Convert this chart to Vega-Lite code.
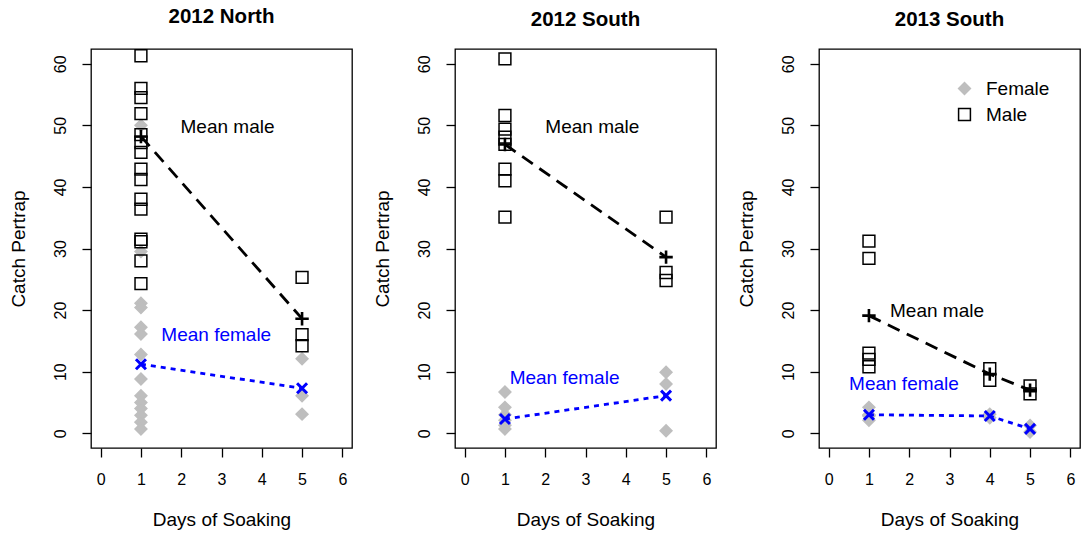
{
  "$schema": "https://vega.github.io/schema/vega-lite/v6.json",
  "padding": {"left": 8, "top": 6, "right": 5, "bottom": 5},
  "background": "white",
  "datasets": {
    "pts": [
      {"panel": "2012 North", "day": 1, "value": 50.0, "sex": "Female"},
      {"panel": "2012 North", "day": 1, "value": 29.5, "sex": "Female"},
      {"panel": "2012 North", "day": 1, "value": 21.1, "sex": "Female"},
      {"panel": "2012 North", "day": 1, "value": 20.4, "sex": "Female"},
      {"panel": "2012 North", "day": 1, "value": 17.2, "sex": "Female"},
      {"panel": "2012 North", "day": 1, "value": 16.1, "sex": "Female"},
      {"panel": "2012 North", "day": 1, "value": 12.8, "sex": "Female"},
      {"panel": "2012 North", "day": 1, "value": 8.8, "sex": "Female"},
      {"panel": "2012 North", "day": 1, "value": 6.1, "sex": "Female"},
      {"panel": "2012 North", "day": 1, "value": 5.0, "sex": "Female"},
      {"panel": "2012 North", "day": 1, "value": 4.0, "sex": "Female"},
      {"panel": "2012 North", "day": 1, "value": 2.9, "sex": "Female"},
      {"panel": "2012 North", "day": 1, "value": 1.8, "sex": "Female"},
      {"panel": "2012 North", "day": 1, "value": 0.7, "sex": "Female"},
      {"panel": "2012 North", "day": 5, "value": 12.1, "sex": "Female"},
      {"panel": "2012 North", "day": 5, "value": 6.1, "sex": "Female"},
      {"panel": "2012 North", "day": 5, "value": 3.1, "sex": "Female"},
      {"panel": "2012 North", "day": 1, "value": 61.3, "sex": "Male"},
      {"panel": "2012 North", "day": 1, "value": 56.0, "sex": "Male"},
      {"panel": "2012 North", "day": 1, "value": 54.5, "sex": "Male"},
      {"panel": "2012 North", "day": 1, "value": 51.9, "sex": "Male"},
      {"panel": "2012 North", "day": 1, "value": 48.5, "sex": "Male"},
      {"panel": "2012 North", "day": 1, "value": 47.2, "sex": "Male"},
      {"panel": "2012 North", "day": 1, "value": 45.6, "sex": "Male"},
      {"panel": "2012 North", "day": 1, "value": 42.9, "sex": "Male"},
      {"panel": "2012 North", "day": 1, "value": 41.2, "sex": "Male"},
      {"panel": "2012 North", "day": 1, "value": 38.0, "sex": "Male"},
      {"panel": "2012 North", "day": 1, "value": 36.4, "sex": "Male"},
      {"panel": "2012 North", "day": 1, "value": 31.5, "sex": "Male"},
      {"panel": "2012 North", "day": 1, "value": 31.1, "sex": "Male"},
      {"panel": "2012 North", "day": 1, "value": 28.0, "sex": "Male"},
      {"panel": "2012 North", "day": 1, "value": 24.3, "sex": "Male"},
      {"panel": "2012 North", "day": 5, "value": 25.3, "sex": "Male"},
      {"panel": "2012 North", "day": 5, "value": 16.0, "sex": "Male"},
      {"panel": "2012 North", "day": 5, "value": 14.2, "sex": "Male"},
      {"panel": "2012 South", "day": 1, "value": 6.7, "sex": "Female"},
      {"panel": "2012 South", "day": 1, "value": 4.2, "sex": "Female"},
      {"panel": "2012 South", "day": 1, "value": 3.0, "sex": "Female"},
      {"panel": "2012 South", "day": 1, "value": 2.1, "sex": "Female"},
      {"panel": "2012 South", "day": 1, "value": 1.3, "sex": "Female"},
      {"panel": "2012 South", "day": 1, "value": 0.7, "sex": "Female"},
      {"panel": "2012 South", "day": 5, "value": 9.9, "sex": "Female"},
      {"panel": "2012 South", "day": 5, "value": 8.0, "sex": "Female"},
      {"panel": "2012 South", "day": 5, "value": 0.4, "sex": "Female"},
      {"panel": "2012 South", "day": 1, "value": 60.8, "sex": "Male"},
      {"panel": "2012 South", "day": 1, "value": 51.6, "sex": "Male"},
      {"panel": "2012 South", "day": 1, "value": 49.4, "sex": "Male"},
      {"panel": "2012 South", "day": 1, "value": 48.1, "sex": "Male"},
      {"panel": "2012 South", "day": 1, "value": 46.9, "sex": "Male"},
      {"panel": "2012 South", "day": 1, "value": 42.9, "sex": "Male"},
      {"panel": "2012 South", "day": 1, "value": 41.0, "sex": "Male"},
      {"panel": "2012 South", "day": 1, "value": 35.1, "sex": "Male"},
      {"panel": "2012 South", "day": 5, "value": 35.1, "sex": "Male"},
      {"panel": "2012 South", "day": 5, "value": 26.1, "sex": "Male"},
      {"panel": "2012 South", "day": 5, "value": 24.8, "sex": "Male"},
      {"panel": "2013 South", "day": 1, "value": 4.2, "sex": "Female"},
      {"panel": "2013 South", "day": 1, "value": 3.0, "sex": "Female"},
      {"panel": "2013 South", "day": 1, "value": 2.9, "sex": "Female"},
      {"panel": "2013 South", "day": 1, "value": 2.8, "sex": "Female"},
      {"panel": "2013 South", "day": 1, "value": 2.1, "sex": "Female"},
      {"panel": "2013 South", "day": 4, "value": 3.1, "sex": "Female"},
      {"panel": "2013 South", "day": 4, "value": 2.5, "sex": "Female"},
      {"panel": "2013 South", "day": 5, "value": 1.25, "sex": "Female"},
      {"panel": "2013 South", "day": 5, "value": 0.2, "sex": "Female"},
      {"panel": "2013 South", "day": 1, "value": 31.2, "sex": "Male"},
      {"panel": "2013 South", "day": 1, "value": 28.4, "sex": "Male"},
      {"panel": "2013 South", "day": 1, "value": 13.0, "sex": "Male"},
      {"panel": "2013 South", "day": 1, "value": 12.0, "sex": "Male"},
      {"panel": "2013 South", "day": 1, "value": 10.8, "sex": "Male"},
      {"panel": "2013 South", "day": 4, "value": 10.5, "sex": "Male"},
      {"panel": "2013 South", "day": 4, "value": 8.6, "sex": "Male"},
      {"panel": "2013 South", "day": 5, "value": 7.7, "sex": "Male"},
      {"panel": "2013 South", "day": 5, "value": 6.4, "sex": "Male"}
    ],
    "means": [
      {"panel": "2012 North", "day": 1, "value": 48.2, "sex": "Male"},
      {"panel": "2012 North", "day": 5, "value": 18.6, "sex": "Male"},
      {"panel": "2012 North", "day": 1, "value": 11.2, "sex": "Female"},
      {"panel": "2012 North", "day": 5, "value": 7.3, "sex": "Female"},
      {"panel": "2012 South", "day": 1, "value": 46.9, "sex": "Male"},
      {"panel": "2012 South", "day": 5, "value": 28.6, "sex": "Male"},
      {"panel": "2012 South", "day": 1, "value": 2.3, "sex": "Female"},
      {"panel": "2012 South", "day": 5, "value": 6.1, "sex": "Female"},
      {"panel": "2013 South", "day": 1, "value": 19.1, "sex": "Male"},
      {"panel": "2013 South", "day": 4, "value": 9.6, "sex": "Male"},
      {"panel": "2013 South", "day": 5, "value": 7.0, "sex": "Male"},
      {"panel": "2013 South", "day": 1, "value": 3.0, "sex": "Female"},
      {"panel": "2013 South", "day": 4, "value": 2.8, "sex": "Female"},
      {"panel": "2013 South", "day": 5, "value": 0.7, "sex": "Female"}
    ],
    "labels": [
      {"panel": "2012 North", "day": 3.15, "value": 49.8, "label": "Mean male", "sex": "Male"},
      {"panel": "2012 North", "day": 2.87, "value": 16.0, "label": "Mean female", "sex": "Female"},
      {"panel": "2012 South", "day": 3.17, "value": 49.8, "label": "Mean male", "sex": "Male"},
      {"panel": "2012 South", "day": 2.48, "value": 8.9, "label": "Mean female", "sex": "Female"},
      {"panel": "2013 South", "day": 2.69, "value": 19.9, "label": "Mean male", "sex": "Male"},
      {"panel": "2013 South", "day": 1.87, "value": 8.0, "label": "Mean female", "sex": "Female"}
    ]
  },
  "spacing": 103,
  "bounds": "flush",
  "resolve": {"scale": {"shape": "independent", "fill": "independent", "stroke": "independent", "color": "independent"},
              "legend": {"shape": "independent", "fill": "independent", "stroke": "independent", "color": "independent"}},
  "hconcat": [
    {
      "title": "2012 North",
      "width": 261, "height": 399,
      "encoding": {
        "x": {"field": "day", "type": "quantitative", "scale": {"domain": [-0.24, 6.24], "nice": false, "zero": false},
              "axis": {"values": [0, 1, 2, 3, 4, 5, 6], "title": "Days of Soaking"}},
        "y": {"field": "value", "type": "quantitative", "scale": {"domain": [-2.4, 62.4], "nice": false, "zero": false},
              "axis": {"values": [0, 10, 20, 30, 40, 50, 60], "title": "Catch Pertrap", "labelAngle": -90}}
      },
      "layer": [
        {"data": {"name": "pts"}, "transform": [{"filter": "datum.panel === '2012 North'"}],
         "mark": {"type": "point", "size": 140, "strokeWidth": 1.5, "opacity": 1},
         "encoding": {
           "shape": {"field": "sex", "type": "nominal", "scale": {"domain": ["Female", "Male"], "range": ["diamond", "square"]}, "legend": null},
           "fill": {"field": "sex", "type": "nominal", "scale": {"domain": ["Female", "Male"], "range": ["#bebebe", "transparent"]}, "legend": null},
           "stroke": {"field": "sex", "type": "nominal", "scale": {"domain": ["Female", "Male"], "range": ["#bebebe", "black"]}, "legend": null}
         }},
        {"data": {"name": "means"}, "transform": [{"filter": "datum.panel === '2012 North' && datum.sex === 'Male'"}],
         "mark": {"type": "line", "color": "black", "strokeWidth": 2.8, "strokeDash": [13, 8]}, "encoding": {}},
        {"data": {"name": "means"}, "transform": [{"filter": "datum.panel === '2012 North' && datum.sex === 'Female'"}],
         "mark": {"type": "line", "color": "#0000ff", "strokeWidth": 2.8, "strokeDash": [5, 5]}, "encoding": {}},
        {"data": {"name": "means"}, "transform": [{"filter": "datum.panel === '2012 North' && datum.sex === 'Male'"}],
         "mark": {"type": "point", "shape": "M-1,0L1,0M0,-1L0,1", "filled": false, "stroke": "black", "strokeWidth": 2.6, "size": 180, "opacity": 1}},
        {"data": {"name": "means"}, "transform": [{"filter": "datum.panel === '2012 North' && datum.sex === 'Female'"}],
         "mark": {"type": "point", "shape": "M-1,-1L1,1M1,-1L-1,1", "filled": false, "stroke": "#0000ff", "strokeWidth": 3, "size": 100, "opacity": 1}},
        {"data": {"name": "labels"}, "transform": [{"filter": "datum.panel === '2012 North'"}],
         "mark": {"type": "text", "fontSize": 19},
         "encoding": {"text": {"field": "label"},
           "color": {"field": "sex", "type": "nominal", "scale": {"domain": ["Female", "Male"], "range": ["#0000ff", "black"]}, "legend": null}}}
      ]
    },
    {
      "title": "2012 South",
      "width": 261, "height": 399,
      "encoding": {
        "x": {"field": "day", "type": "quantitative", "scale": {"domain": [-0.24, 6.24], "nice": false, "zero": false},
              "axis": {"values": [0, 1, 2, 3, 4, 5, 6], "title": "Days of Soaking"}},
        "y": {"field": "value", "type": "quantitative", "scale": {"domain": [-2.4, 62.4], "nice": false, "zero": false},
              "axis": {"values": [0, 10, 20, 30, 40, 50, 60], "title": "Catch Pertrap", "labelAngle": -90}}
      },
      "layer": [
        {"data": {"name": "pts"}, "transform": [{"filter": "datum.panel === '2012 South'"}],
         "mark": {"type": "point", "size": 140, "strokeWidth": 1.5, "opacity": 1},
         "encoding": {
           "shape": {"field": "sex", "type": "nominal", "scale": {"domain": ["Female", "Male"], "range": ["diamond", "square"]}, "legend": null},
           "fill": {"field": "sex", "type": "nominal", "scale": {"domain": ["Female", "Male"], "range": ["#bebebe", "transparent"]}, "legend": null},
           "stroke": {"field": "sex", "type": "nominal", "scale": {"domain": ["Female", "Male"], "range": ["#bebebe", "black"]}, "legend": null}
         }},
        {"data": {"name": "means"}, "transform": [{"filter": "datum.panel === '2012 South' && datum.sex === 'Male'"}],
         "mark": {"type": "line", "color": "black", "strokeWidth": 2.8, "strokeDash": [13, 8]}, "encoding": {}},
        {"data": {"name": "means"}, "transform": [{"filter": "datum.panel === '2012 South' && datum.sex === 'Female'"}],
         "mark": {"type": "line", "color": "#0000ff", "strokeWidth": 2.8, "strokeDash": [5, 5]}, "encoding": {}},
        {"data": {"name": "means"}, "transform": [{"filter": "datum.panel === '2012 South' && datum.sex === 'Male'"}],
         "mark": {"type": "point", "shape": "M-1,0L1,0M0,-1L0,1", "filled": false, "stroke": "black", "strokeWidth": 2.6, "size": 180, "opacity": 1}},
        {"data": {"name": "means"}, "transform": [{"filter": "datum.panel === '2012 South' && datum.sex === 'Female'"}],
         "mark": {"type": "point", "shape": "M-1,-1L1,1M1,-1L-1,1", "filled": false, "stroke": "#0000ff", "strokeWidth": 3, "size": 100, "opacity": 1}},
        {"data": {"name": "labels"}, "transform": [{"filter": "datum.panel === '2012 South'"}],
         "mark": {"type": "text", "fontSize": 19},
         "encoding": {"text": {"field": "label"},
           "color": {"field": "sex", "type": "nominal", "scale": {"domain": ["Female", "Male"], "range": ["#0000ff", "black"]}, "legend": null}}}
      ]
    },
    {
      "title": "2013 South",
      "width": 261, "height": 399,
      "encoding": {
        "x": {"field": "day", "type": "quantitative", "scale": {"domain": [-0.24, 6.24], "nice": false, "zero": false},
              "axis": {"values": [0, 1, 2, 3, 4, 5, 6], "title": "Days of Soaking"}},
        "y": {"field": "value", "type": "quantitative", "scale": {"domain": [-2.4, 62.4], "nice": false, "zero": false},
              "axis": {"values": [0, 10, 20, 30, 40, 50, 60], "title": "Catch Pertrap", "labelAngle": -90}}
      },
      "layer": [
        {"data": {"name": "pts"}, "transform": [{"filter": "datum.panel === '2013 South'"}],
         "mark": {"type": "point", "size": 140, "strokeWidth": 1.5, "opacity": 1},
         "encoding": {
           "shape": {"field": "sex", "type": "nominal", "scale": {"domain": ["Female", "Male"], "range": ["diamond", "square"]},
                     "legend": {"title": null, "orient": "none", "legendX": 136, "legendY": 30, "labelFontSize": 19, "labelOffset": 12, "symbolSize": 140, "symbolStrokeWidth": 1.5, "rowPadding": 6, "labelColor": "black"}},
           "fill": {"field": "sex", "type": "nominal", "scale": {"domain": ["Female", "Male"], "range": ["#bebebe", "transparent"]},
                    "legend": {"title": null, "orient": "none", "legendX": 136, "legendY": 30, "labelFontSize": 19, "labelOffset": 12, "symbolSize": 140, "symbolStrokeWidth": 1.5, "rowPadding": 6, "labelColor": "black"}},
           "stroke": {"field": "sex", "type": "nominal", "scale": {"domain": ["Female", "Male"], "range": ["#bebebe", "black"]},
                      "legend": {"title": null, "orient": "none", "legendX": 136, "legendY": 30, "labelFontSize": 19, "labelOffset": 12, "symbolSize": 140, "symbolStrokeWidth": 1.5, "rowPadding": 6, "labelColor": "black"}}
         }},
        {"data": {"name": "means"}, "transform": [{"filter": "datum.panel === '2013 South' && datum.sex === 'Male'"}],
         "mark": {"type": "line", "color": "black", "strokeWidth": 2.8, "strokeDash": [13, 8]}, "encoding": {}},
        {"data": {"name": "means"}, "transform": [{"filter": "datum.panel === '2013 South' && datum.sex === 'Female'"}],
         "mark": {"type": "line", "color": "#0000ff", "strokeWidth": 2.8, "strokeDash": [5, 5]}, "encoding": {}},
        {"data": {"name": "means"}, "transform": [{"filter": "datum.panel === '2013 South' && datum.sex === 'Male'"}],
         "mark": {"type": "point", "shape": "M-1,0L1,0M0,-1L0,1", "filled": false, "stroke": "black", "strokeWidth": 2.6, "size": 180, "opacity": 1}},
        {"data": {"name": "means"}, "transform": [{"filter": "datum.panel === '2013 South' && datum.sex === 'Female'"}],
         "mark": {"type": "point", "shape": "M-1,-1L1,1M1,-1L-1,1", "filled": false, "stroke": "#0000ff", "strokeWidth": 3, "size": 100, "opacity": 1}},
        {"data": {"name": "labels"}, "transform": [{"filter": "datum.panel === '2013 South'"}],
         "mark": {"type": "text", "fontSize": 19},
         "encoding": {"text": {"field": "label"},
           "color": {"field": "sex", "type": "nominal", "scale": {"domain": ["Female", "Male"], "range": ["#0000ff", "black"]}, "legend": null}}}
      ]
    }
  ],
  "config": {
    "font": "Liberation Sans",
    "view": {"stroke": "black", "strokeWidth": 1.3},
    "title": {"fontSize": 20.5, "fontWeight": "bold", "color": "black", "anchor": "middle", "offset": 19},
    "axis": {
      "grid": false, "domain": false, "ticks": true, "tickColor": "black", "tickSize": 9, "tickWidth": 1.3,
      "labelFontSize": 16, "labelColor": "black", "titleFontSize": 19, "titleFontWeight": "normal", "titleColor": "black"
    },
    "axisX": {"labelPadding": 14, "titlePadding": 23},
    "axisY": {"labelPadding": 14, "titlePadding": 24},
    "legend": {"labelFont": "Liberation Sans"}
  }
}
